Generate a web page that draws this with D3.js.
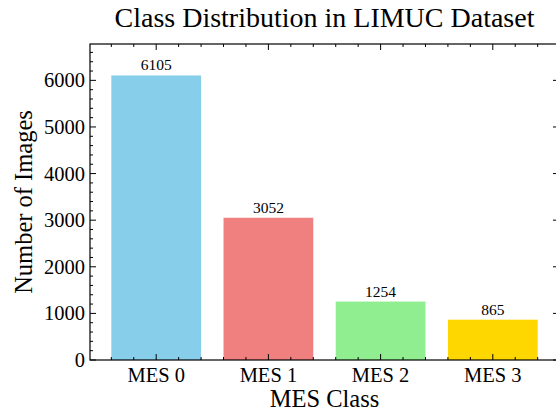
<!DOCTYPE html>
<html>
<head>
<meta charset="utf-8">
<script src="https://cdn.jsdelivr.net/npm/d3@7"></script>
<style>
  body { margin: 0; background: #fff; }
  svg { display: block; font-family: "Liberation Serif", "DejaVu Serif", serif; }
</style>
</head>
<body>
<div id="chart"></div>
<script>
// data
const categories = ["MES 0", "MES 1", "MES 2", "MES 3"];
const counts = [6105, 3052, 1254, 865];
const barColors = ["#87CEEB", "#F08080", "#90EE90", "#FFD700"];
const yTicks = [0, 1000, 2000, 3000, 4000, 5000, 6000];

const width = 556, height = 410;
const plot = {left: 90, right: 559, top: 44, bottom: 360};

let svg = d3.select("#chart")
   .append("svg")
   .attr("width", width)
   .attr("height", height);

// bar positions as numbers, like matplotlib
let x = d3.scaleLinear()
   .domain([-0.59, categories.length - 1 + 0.59])
   .range([plot.left, plot.right]);
let y = d3.scaleLinear()
   .domain([0, 6780])
   .range([plot.bottom, plot.top]);

const barWidth = 0.8;

// bars
svg.selectAll("rect.bar")
   .data(counts)
   .enter()
   .append("rect")
   .attr("class", "bar")
   .attr("x", (d, i) => x(i - barWidth / 2))
   .attr("width", x(barWidth) - x(0))
   .attr("y", d => y(d))
   .attr("height", d => y(0) - y(d))
   .style("fill", (d, i) => barColors[i]);

// value labels on top of bars
svg.selectAll("text.value")
   .data(counts)
   .enter()
   .append("text")
   .attr("class", "value")
   .attr("x", (d, i) => x(i))
   .attr("y", d => y(d) - 5)
   .attr("text-anchor", "middle")
   .style("font-size", "15.5px")
   .text(d => d);

// minor tick values
let xMinor = d3.range(-0.4, categories.length - 0.4, 0.2).filter(v => Math.abs(v - Math.round(v)) > 1e-6);
let yMinor = d3.range(0, 6780, 200).filter(v => v % 1000 !== 0);

const major = 6, minor = 3;

// ticks pointing inwards on all four sides
function drawTicks(vals, len, axis) {
   vals.forEach(v => {
      if (axis === "x") {
         let px = x(v);
         svg.append("line").attr("x1", px).attr("x2", px).attr("y1", plot.bottom).attr("y2", plot.bottom - len)
            .attr("stroke", "#000").attr("stroke-width", 1);
         svg.append("line").attr("x1", px).attr("x2", px).attr("y1", plot.top).attr("y2", plot.top + len)
            .attr("stroke", "#000").attr("stroke-width", 1);
      } else {
         let py = y(v);
         svg.append("line").attr("x1", plot.left).attr("x2", plot.left + len).attr("y1", py).attr("y2", py)
            .attr("stroke", "#000").attr("stroke-width", 1);
         svg.append("line").attr("x1", plot.right).attr("x2", plot.right - len).attr("y1", py).attr("y2", py)
            .attr("stroke", "#000").attr("stroke-width", 1);
      }
   });
}
drawTicks(d3.range(categories.length), major, "x");
drawTicks(xMinor, minor, "x");
drawTicks(yTicks, major, "y");
drawTicks(yMinor, minor, "y");

// frame
svg.append("rect")
   .attr("x", plot.left).attr("y", plot.top)
   .attr("width", plot.right - plot.left).attr("height", plot.bottom - plot.top)
   .attr("fill", "none").attr("stroke", "#000").attr("stroke-width", 1.2);

// tick labels
svg.selectAll("text.xtick")
   .data(categories)
   .enter()
   .append("text")
   .attr("x", (d, i) => x(i))
   .attr("y", 382)
   .attr("text-anchor", "middle")
   .style("font-size", "20.5px")
   .text(d => d);

svg.selectAll("text.ytick")
   .data(yTicks)
   .enter()
   .append("text")
   .attr("x", plot.left - 5)
   .attr("y", d => y(d) + 7)
   .attr("text-anchor", "end")
   .style("font-size", "20.5px")
   .text(d => d);

// axis labels and title
svg.append("text")
   .attr("x", (plot.left + plot.right) / 2)
   .attr("y", 407)
   .attr("text-anchor", "middle")
   .style("font-size", "24.5px")
   .text("MES Class");

svg.append("text")
   .attr("transform", "translate(32," + (plot.top + plot.bottom) / 2 + ") rotate(-90)")
   .attr("text-anchor", "middle")
   .style("font-size", "24.5px")
   .text("Number of Images");

svg.append("text")
   .attr("x", (plot.left + plot.right) / 2)
   .attr("y", 27)
   .attr("text-anchor", "middle")
   .style("font-size", "28px")
   .text("Class Distribution in LIMUC Dataset");
</script>
</body>
</html>
